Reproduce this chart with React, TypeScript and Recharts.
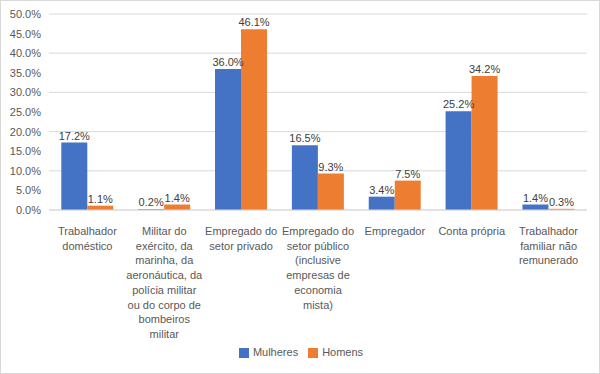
import { BarChart, Bar, XAxis, YAxis, CartesianGrid, Legend, LabelList } from 'recharts';

const categories = [
  'Trabalhador\ndoméstico',
  'Militar do\nexército, da\nmarinha, da\naeronáutica, da\npolícia militar\nou do corpo de\nbombeiros\nmilitar',
  'Empregado do\nsetor privado',
  'Empregado do\nsetor público\n(inclusive\nempresas de\neconomia\nmista)',
  'Empregador',
  'Conta própria',
  'Trabalhador\nfamiliar não\nremunerado',
];
const mulheres = [17.2, 0.2, 36.0, 16.5, 3.4, 25.2, 1.4];
const homens = [1.1, 1.4, 46.1, 9.3, 7.5, 34.2, 0.3];
const yTicks = [0, 5, 10, 15, 20, 25, 30, 35, 40, 45, 50];
const seriesOrder = ['Mulheres', 'Homens'];

const FONT = '"Liberation Sans", Arial, sans-serif';

const data = categories.map((name, i) => ({ name, mulheres: mulheres[i], homens: homens[i] }));

const fmt = (v: any) => `${Number(v).toFixed(1)}%`;

function CategoryTick({ x, y, payload }: any) {
  const lines = String(payload.value).split('\n');
  return (
    <text x={x} y={y + 17} textAnchor="middle" fill="#595959" fontSize={11} fontFamily={FONT}>
      {lines.map((line, i) => (
        <tspan key={i} x={x} dy={i === 0 ? 0 : 14.7}>{line}</tspan>
      ))}
    </text>
  );
}

export default function App() {
  return (
    <div style={{ position: 'absolute', left: 0, top: 0, width: 600, height: 374, background: '#fff' }}>
      <BarChart
        width={600}
        height={374}
        data={data}
        margin={{ top: 14, right: 13, left: 0, bottom: 0 }}
        barCategoryGap="16%"
        barGap={0}
      >
        <CartesianGrid vertical={false} stroke="#d9d9d9" />
        <XAxis
          dataKey="name"
          interval={0}
          height={164}
          tickLine={false}
          axisLine={{ stroke: '#d9d9d9' }}
          tick={<CategoryTick />}
        />
        <YAxis
          width={49}
          domain={[0, 50]}
          ticks={yTicks}
          tickFormatter={fmt}
          axisLine={false}
          tickLine={false}
          tick={{ fontSize: 11, fill: '#595959', fontFamily: FONT }}
        />
        <Legend
          layout="horizontal"
          verticalAlign="middle"
          align="center"
          iconType="square"
          iconSize={10}
          itemSorter={(item: any) => seriesOrder.indexOf(item.value)}
          wrapperStyle={{ top: 346, left: 0, width: 612, fontSize: 11, fontFamily: FONT }}
          formatter={(value) => <span style={{ color: '#595959' }}>{value}</span>}
        />
        <Bar dataKey="mulheres" name="Mulheres" fill="#4472c4" isAnimationActive={false}>
          <LabelList dataKey="mulheres" position="top" formatter={fmt} fill="#404040" fontSize={11} fontFamily={FONT} offset={3} />
        </Bar>
        <Bar dataKey="homens" name="Homens" fill="#ed7d31" isAnimationActive={false}>
          <LabelList dataKey="homens" position="top" formatter={fmt} fill="#404040" fontSize={11} fontFamily={FONT} offset={3} />
        </Bar>
      </BarChart>
      <div style={{ position: 'absolute', left: 0, top: 0, width: 600, height: 374, boxSizing: 'border-box', border: '1px solid #d9d9d9', pointerEvents: 'none' }} />
    </div>
  );
}
